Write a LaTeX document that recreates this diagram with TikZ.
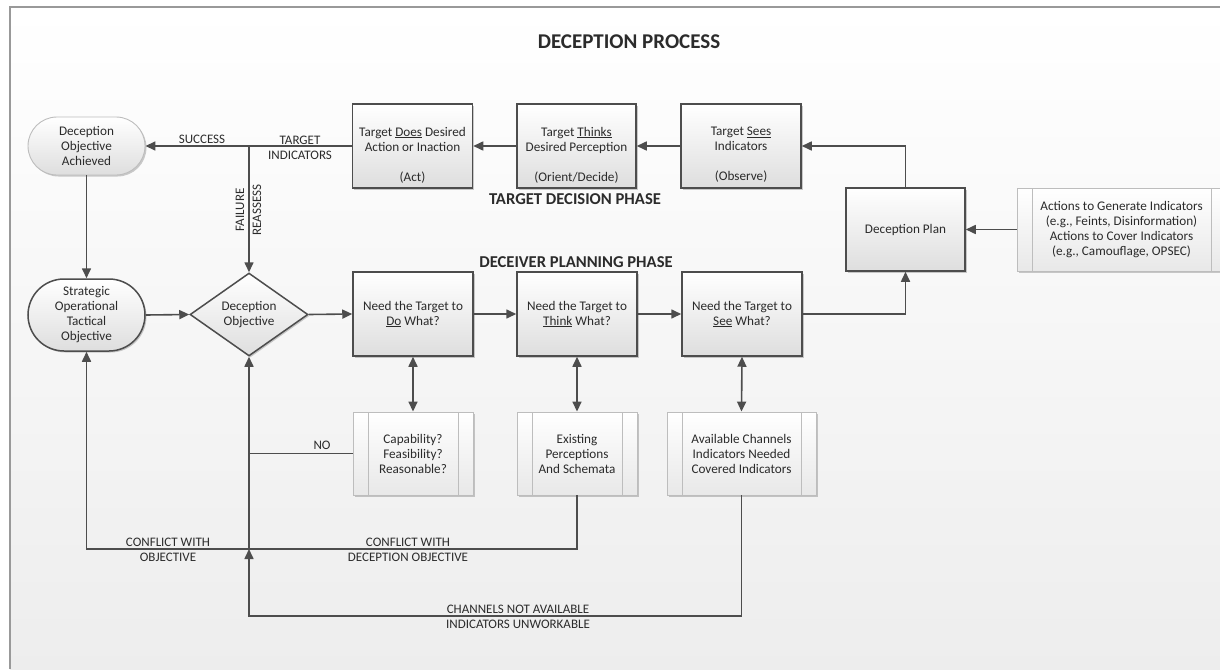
\documentclass[tikz,border=0pt]{standalone}
\usepackage{fontspec}
\setmainfont{Carlito}
\usetikzlibrary{arrows.meta,shapes.geometric,shapes.misc,shadows}

\definecolor{edge}{HTML}{4D4D4D}
\definecolor{ink}{HTML}{2B2B2B}
\definecolor{lightedge}{HTML}{BDBDBD}

\tikzset{
  boxtext/.style={text=ink, align=center, font=\fontsize{13.2}{15}\selectfont, inner sep=0pt},
  lbl/.style={text=ink, align=center, font=\fontsize{13}{15}\selectfont, inner sep=0pt},
  phase/.style={text=ink, font=\fontsize{16.6}{19}\selectfont\bfseries, inner sep=0pt},
  shade/.style={top color=white, bottom color=black!13},
  shadowed/.style={drop shadow={shadow xshift=1.5pt, shadow yshift=-1.5pt, opacity=0.2, fill=black}},
  stepbox/.style={draw=edge, line width=1.5pt, shade, shadowed, minimum width=120pt,
    minimum height=84pt, boxtext},
  predef/.style={draw=lightedge, line width=0.9pt, top color=white, bottom color=black!9,
    shadowed, minimum height=83pt, boxtext,
    path picture={\draw[lightedge, line width=0.9pt]
      ([xshift=15pt]path picture bounding box.south west) -- ([xshift=15pt]path picture bounding box.north west)
      ([xshift=-15pt]path picture bounding box.south east) -- ([xshift=-15pt]path picture bounding box.north east);}},
  pill/.style={rounded rectangle, minimum width=117pt, shade, shadowed, boxtext},
  arr/.style={draw=edge, line width=1.6pt, -{Triangle[length=10pt,width=9pt]}},
  dblarr/.style={draw=edge, line width=1.6pt, {Triangle[length=10pt,width=9pt]}-{Triangle[length=10pt,width=9pt]}},
  plain/.style={draw=edge, line width=1.6pt},
}

\begin{document}
\begin{tikzpicture}[x=1pt, y=-1pt]
% page and frame
\useasboundingbox (0,0) rectangle (1220,669);
\fill[white] (0,0) rectangle (1220,669);
\fill[top color=white, bottom color=black!7] (10,7) rectangle (1220,669);
\draw[black!40, line width=1.2pt] (10,669) -- (10,7) -- (1220,7);

\node[text=ink, font=\fontsize{21}{25}\selectfont\bfseries] (title) at (629,42) {DECEPTION PROCESS};

% target decision phase
\node[pill, draw=lightedge, line width=0.9pt, minimum height=58pt] (achieved) at (86.5,146)
  {Deception\\Objective\\Achieved};
\node[stepbox] (does) at (412.5,146) {};
\node[boxtext] (doesT) at ([yshift=-9pt]does.center)
  {Target \underline{Does} Desired\\Action or Inaction\\ \\(Act)};
\node[stepbox, minimum width=119pt] (thinks) at (576.5,146) {};
\node[boxtext] (thinksT) at ([yshift=-9pt]thinks.center)
  {Target \underline{Thinks}\\Desired Perception\\ \\(Orient/Decide)};
\node[stepbox] (sees) at (741,146) {};
\node[boxtext] (seesT) at ([yshift=-9pt]sees.center)
  {Target \underline{Sees}\\Indicators\\ \\(Observe)};
\node[phase] (tdp) at (575,199) {TARGET DECISION PHASE};

\node[stepbox, minimum width=119pt, minimum height=83pt] (plan) at (905.5,229.5) {Deception Plan};
\node[predef, minimum width=209pt] (actions) at (1121.5,229.5)
  {Actions to Generate Indicators\\(e.g., Feints, Disinformation)\\Actions to Cover Indicators\\(e.g., Camouflage, OPSEC)};

% deceiver planning phase
\node[phase] (dpp) at (576,262) {DECEIVER PLANNING PHASE};
\node[pill, draw=edge, line width=1.5pt, minimum height=72pt] (strategic) at (86.5,315)
  {Strategic\\Operational\\Tactical\\Objective};
\node[diamond, draw=edge, line width=1.5pt, shade, shadowed, minimum width=118pt,
  minimum height=83pt, inner sep=0pt, boxtext] (obj) at (249,314.5) {Deception\\Objective};
\node[stepbox] (needdo) at (413,314) {Need the Target to\\\underline{Do} What?};
\node[stepbox] (needthink) at (577,314) {Need the Target to\\\underline{Think} What?};
\node[stepbox] (needsee) at (742,314) {Need the Target to\\\underline{See} What?};

\node[predef, minimum width=120pt] (cap) at (413,453.5) {Capability?\\Feasibility?\\Reasonable?};
\node[predef, minimum width=120pt] (exist) at (577,453.5) {Existing\\Perceptions\\And Schemata};
\node[predef, minimum width=149pt] (avail) at (741.5,453.5)
  {Available Channels\\Indicators Needed\\Covered Indicators};

% junctions and corners
\coordinate (j1) at (obj.north |- does.west);
\coordinate (j2) at (249,549);
\coordinate (c1) at (strategic.south |- j2);
\coordinate (c2) at (249,616);

% connectors, top row
\draw[arr] (does.west) -- (achieved.east);
\draw[arr] (j1) -- (obj.north);
\draw[arr] (thinks.west) -- (does.east);
\draw[arr] (sees.west) -- (thinks.east);
\draw[arr] (plan.north) |- (sees.east);
\draw[arr] (actions.west) -- (plan.east);

% connectors, planning row
\draw[arr] (achieved.south) -- (strategic.north);
\draw[arr] (strategic.east) -- (obj.west);
\draw[arr] (obj.east) -- (needdo.west);
\draw[arr] (needdo.east) -- (needthink.west);
\draw[arr] (needthink.east) -- (needsee.west);
\draw[arr] (needsee.east) -| (plan.south);
\draw[dblarr] (needdo.south) -- (cap.north);
\draw[dblarr] (needthink.south) -- (exist.north);
\draw[dblarr] (needsee.south) -- (avail.north);

% feedback loops
\draw[plain] (cap.west) -- (cap.west -| obj.south);
\draw[arr] (exist.south) |- (c1) -- (strategic.south);
\draw[arr] (avail.south) |- (c2) -- (j2);
\draw[arr] (j2) -- (obj.south);

% connector labels
\node[lbl] (success) at (202,139.5) {SUCCESS};
\node[lbl] (tind) at (300,147.5) {TARGET\\INDICATORS};
\node[lbl, rotate=90] (failure) at (240,210) {FAILURE};
\node[lbl, rotate=90] (reassess) at (257,210) {REASSESS};
\node[lbl] (no) at (322,445) {NO};
\node[lbl] (cwo) at (168,550) {CONFLICT WITH\\OBJECTIVE};
\node[lbl] (cwdo) at (408,550) {CONFLICT WITH\\DECEPTION OBJECTIVE};
\node[lbl] (cna) at (518,617) {CHANNELS NOT AVAILABLE\\INDICATORS UNWORKABLE};
\end{tikzpicture}
\end{document}
